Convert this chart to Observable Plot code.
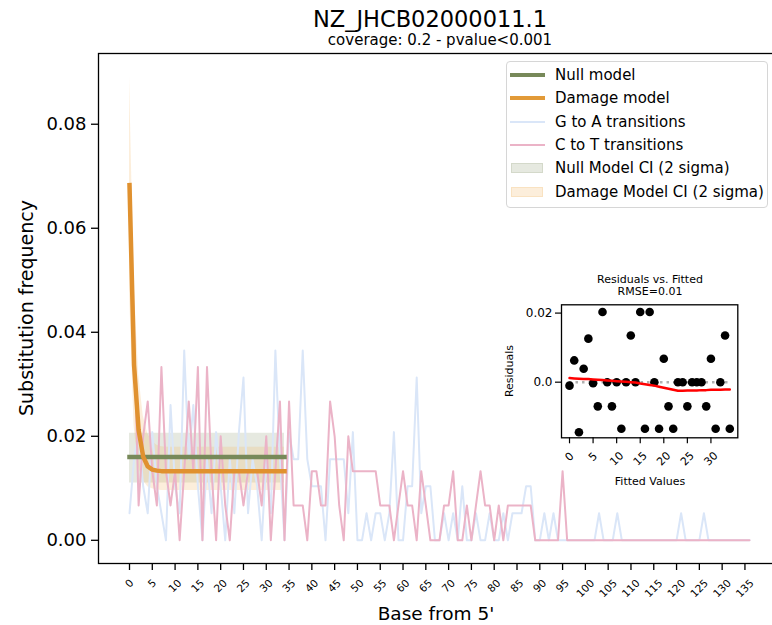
<!DOCTYPE html>
<html><head><meta charset="utf-8">
<script src="https://cdn.jsdelivr.net/npm/d3@7"></script>
<script src="https://cdn.jsdelivr.net/npm/@observablehq/plot@0.6"></script>
<style>
html,body{margin:0;padding:0;background:#fff;}
body{width:772px;height:625px;overflow:hidden;position:relative;font-family:"DejaVu Sans",sans-serif;color:#000;}
.abs{position:absolute;white-space:nowrap;line-height:1;}
.c{transform:translate(-50%,-50%);}
.r{transform:translate(-50%,-50%) rotate(-90deg);}
#main,#inset{position:absolute;}
#main{left:0;top:0;}
#inset{left:495px;top:265px;}
</style></head><body>
<div id="main"></div>
<div id="inset"></div>
<script>
// ---- data ----
const chartTitle = "NZ_JHCB02000011.1";
const chartSubtitle = "coverage: 0.2 - pvalue<0.001";

// G to A transition frequency per position (0..136)
const gaFreq = [
0.0052,0.0156,0.0208,0.0104,0.0052,0.0208,0.0104,0.0052,0,0.026,
0.0104,0.0052,0.0365,0.0156,0.026,0.0104,0,0.0156,0.0052,0.0208,
0.0104,0,0.0156,0.0052,0.0208,0.0313,0.0052,0.0156,0.0104,0,
0.0156,0.0052,0.0365,0.0156,0,0.0208,0.0156,0.0156,0.0365,0.0156,
0.0104,0.0104,0.0104,0,0.0156,0.0156,0.0156,0.0156,0.0052,0.0208,
0,0,0.0052,0,0.0052,0.0052,0,0.0052,0.0208,0,
0,0.0104,0.0104,0.0313,0.0052,0.0104,0.0104,0,0,0.0052,
0,0.0052,0,0.0104,0,0,0.0052,0,0,0.0052,
0,0,0.0052,0,0.0052,0.0052,0.0052,0.0104,0.0104,0,
0,0.0052,0,0.0052,0,0,0,0,0,0,
0,0,0,0.0052,0,0,0,0.0052,0,0,
0,0,0,0,0,0,0,0,0,0,
0,0.0052,0,0,0,0,0.0052,0,0,0,
0,0,0,0,0,0,0
];
// C to T transition frequency per position (0..136)
const ctFreq = [
0.0667,0.04,0.0067,0.02,0.0267,0.0133,0.0067,0.0333,0.0133,0.0067,
0.0133,0,0.0133,0.0267,0.0133,0.0333,0,0.0333,0.0133,0,
0.02,0.0067,0,0.0133,0.0133,0.0067,0.0133,0.0133,0.0133,0.0067,
0.02,0,0.0133,0.0267,0,0.0267,0.0067,0.0067,0.0067,0,
0.0133,0.0133,0.0067,0.0067,0.0267,0.02,0.0067,0,0.02,0.0133,
0.0133,0.0133,0.0133,0.0133,0.0133,0.0067,0.0067,0.0067,0,0.0067,
0.0133,0.0067,0.0067,0,0.0133,0.0067,0,0,0,0.0067,
0.0067,0.0133,0,0,0.0067,0,0.0067,0.0133,0.0067,0.0067,
0,0.0067,0,0.0067,0.0067,0.0067,0.0067,0.0067,0.0067,0,
0,0,0,0,0,0.0133,0,0,0,0,
0,0,0,0,0,0,0,0,0,0,
0,0,0,0,0,0,0,0,0,0,
0,0,0,0,0,0,0,0,0,0,
0,0,0,0,0,0,0
];
// Damage model fit and its 2-sigma CI (positions 0..34)
const damageModel = [0.0683,0.0337,0.0212,0.0161,0.0142,0.0136,0.0134,0.0133,0.0133,0.0133,
0.0133,0.0133,0.0133,0.0133,0.0133,0.0133,0.0133,0.0133,0.0133,0.0133,
0.0133,0.0133,0.0133,0.0133,0.0133,0.0133,0.0133,0.0133,0.0133,0.0133,
0.0133,0.0133,0.0133,0.0133,0.0133];
const damageHigh = [0.0891,0.05,0.032,0.024,0.0205,0.019,0.0183,0.018,0.0179,0.0179,
0.0179,0.0179,0.0179,0.0179,0.0179,0.0179,0.0179,0.0179,0.0179,0.0179,
0.0179,0.0179,0.0179,0.0179,0.0179,0.0179,0.0179,0.0179,0.0179,0.0179,
0.0179,0.0179,0.0179,0.0179,0.0179];
const damageLow = [0.048,0.022,0.014,0.0115,0.0103,0.0099,0.0097,0.0096,0.0096,0.0096,
0.0096,0.0096,0.0096,0.0096,0.0096,0.0096,0.0096,0.0096,0.0096,0.0096,
0.0096,0.0096,0.0096,0.0096,0.0096,0.0096,0.0096,0.0096,0.0096,0.0096,
0.0096,0.0096,0.0096,0.0096,0.0096];
// Null model (constant) and its CI
const nullModel = 0.016, nullLow = 0.011, nullHigh = 0.0206;

// Inset: residuals vs fitted (index 0..34) and lowess trend
const residuals = [-0.001,0.0063,-0.0145,0.0039,0.0126,-0.0003,-0.007,0.0203,0,-0.007,
0,-0.0135,0,0.0135,0,0.0203,-0.0135,0.0203,0,-0.0135,
0.0068,-0.007,-0.0135,0,0,-0.007,0,0,0,-0.007,
0.0068,-0.0135,0,0.0135,-0.0135];
const lowess = [0.0012,0.0011,0.001,0.0009,0.0009,0.0008,0.0007,0.0006,0.0005,0.0004,
0.0003,0.0002,0.0001,0,-0.0001,-0.0004,-0.0006,-0.0008,-0.001,-0.0013,
-0.0016,-0.0019,-0.0022,-0.0025,-0.0025,-0.0024,-0.0024,-0.0024,-0.0023,-0.0023,
-0.0022,-0.0022,-0.0022,-0.0021,-0.0021];

// ticks
const xTicks = [0,5,10,15,20,25,30,35,40,45,50,55,60,65,70,75,80,85,90,95,100,105,110,115,120,125,130,135];
const yTicks = [0,0.02,0.04,0.06,0.08];
const insetXTicks = [0,5,10,15,20,25,30];
const insetYTicks = [0,0.02];
const insetYLabels = ["0.0","0.02"];

const legendItems = [
  {label:"Null model", kind:"line", color:"#778959", w:4},
  {label:"Damage model", kind:"line", color:"#e29a38", w:4},
  {label:"G to A transitions", kind:"line", color:"#dae6f8", w:2},
  {label:"C to T transitions", kind:"line", color:"#ebb3c7", w:2},
  {label:"Null Model CI (2 sigma)", kind:"patch", color:"rgba(85,107,47,0.15)", edge:"rgba(85,107,47,0.12)"},
  {label:"Damage Model CI (2 sigma)", kind:"patch", color:"rgba(242,178,92,0.22)", edge:"rgba(242,178,92,0.2)"}
];

// ---- tables ----
const ga = gaFreq.map((v,i)=>({pos:i, v}));
const ct = ctFreq.map((v,i)=>({pos:i, v}));
const model = damageModel.map((d,i)=>({pos:i, damage:d, dLo:damageLow[i], dHi:damageHigh[i], nullV:nullModel, nLo:nullLow, nHi:nullHigh}));

const GREEN = "#778959", ORANGE = "#e0912f", BLUE = "#dae6f8", PINK = "#ebb3c7";

// rotated tick labels: matplotlib keeps the top of each rotated label box fixed,
// so longer labels sit a little lower
const tickLabelMark = (ticks, len, dy, size) => Plot.text(ticks.filter(t => String(t).length === len),
  {x:d=>d, text:d=>String(d), frameAnchor:"bottom", dy, rotate:-45, textAnchor:"middle", lineAnchor:"middle", fontSize:size});

const main = Plot.plot({
  width: 772, height: 625,
  marginLeft: 98, marginRight: -8, marginTop: 53, marginBottom: 62,
  x: {domain: [-6.8, 142.8]},
  y: {domain: [-0.00446, 0.0936]},
  style: {fontFamily: "DejaVu Sans", color: "black", background: "transparent"},
  marks: [
    Plot.areaY(model, {x:"pos", y1:"nLo", y2:"nHi", fill:"#556b2f", fillOpacity:0.15}),
    Plot.areaY(model, {x:"pos", y1:"dLo", y2:"dHi", fill:"#f2b25c", fillOpacity:0.22}),
    Plot.line(ga, {x:"pos", y:"v", stroke:BLUE, strokeWidth:2}),
    Plot.line(ct, {x:"pos", y:"v", stroke:PINK, strokeWidth:2}),
    Plot.line(model, {x:"pos", y:"nullV", stroke:GREEN, strokeWidth:4.5, strokeLinecap:"square"}),
    Plot.line(model, {x:"pos", y:"damage", stroke:ORANGE, strokeWidth:4.5, strokeLinecap:"square"}),
    Plot.axisY({ticks:yTicks, tickFormat:d3.format(".2f"), tickSize:7, tickPadding:5, fontSize:18, label:null, strokeWidth:1.3}),
    Plot.axisX({ticks:xTicks, tickSize:7, tickFormat:()=>"", label:null, strokeWidth:1.3}),
    tickLabelMark(xTicks, 1, 20, 10.5),
    tickLabelMark(xTicks, 2, 22.5, 10.5),
    tickLabelMark(xTicks, 3, 25, 10.5),
    Plot.frame({stroke:"black", strokeWidth:1.3})
  ]
});
document.getElementById("main").appendChild(main);

const inset = Plot.plot({
  width: 250, height: 230,
  marginLeft: 66, marginRight: 7.7, marginTop: 39.3, marginBottom: 57.7,
  x: {domain: [-1.7, 35.7]},
  y: {domain: [-0.0161, 0.0224]},
  style: {fontFamily: "DejaVu Sans", color: "black", background: "transparent"},
  marks: [
    Plot.frame({fill:"white"}),
    Plot.ruleY([0], {x1:0, x2:residuals.length-1, stroke:"#b0b0b0", strokeWidth:2.5, strokeDasharray:"2.5,4"}),
    Plot.dot(residuals, {x:(d,i)=>i, y:d=>d, r:4.3, fill:"black"}),
    Plot.line(lowess, {x:(d,i)=>i, y:d=>d, stroke:"red", strokeWidth:2.5}),
    Plot.axisY({ticks:insetYTicks, tickFormat:(d)=>insetYLabels[insetYTicks.indexOf(d)], tickSize:6, tickPadding:3, fontSize:12, label:null, strokeWidth:1.2}),
    Plot.axisX({ticks:insetXTicks, tickSize:6, tickFormat:()=>"", label:null, strokeWidth:1.2}),
    tickLabelMark(insetXTicks, 1, 19, 11),
    tickLabelMark(insetXTicks, 2, 21, 11),
    Plot.frame({stroke:"black", strokeWidth:1.3})
  ]
});
document.getElementById("inset").appendChild(inset);

// ---- text & legend ----
function addText(txt, x, y, size, cls, extra) {
  const d = document.createElement("div");
  d.className = "abs " + cls;
  d.style.left = x + "px"; d.style.top = y + "px"; d.style.fontSize = size + "px";
  if (extra) Object.assign(d.style, extra);
  d.textContent = txt;
  document.body.appendChild(d);
  return d;
}
addText(chartTitle, 430, 18.5, 22.5, "c");
addText(chartSubtitle, 440, 40, 15, "c");
addText("Substitution frequency", 26, 308, 19, "r");
addText("Base from 5'", 436, 614, 18.5, "c");
addText("Residuals vs. Fitted", 650, 279, 11, "c");
addText("RMSE=0.01", 650, 291, 11, "c");
addText("Residuals", 509, 371, 11, "r");
addText("Fitted Values", 650, 481, 11, "c");

const box = document.createElement("div");
Object.assign(box.style, {position:"absolute", left:"506px", top:"61px", width:"262px", height:"147px",
  border:"1px solid #d6d6d6", borderRadius:"4px", background:"rgba(255,255,255,0.85)", boxSizing:"border-box"});
document.body.appendChild(box);
const rowY = [75, 98.3, 121.7, 145, 168.3, 191.7];
legendItems.forEach((it, i) => {
  const h = document.createElement("div");
  h.style.position = "absolute";
  if (it.kind === "line") {
    Object.assign(h.style, {left:"510px", width:"35px", top:(rowY[i]-it.w/2)+"px", height:it.w+"px", background:it.color});
  } else {
    Object.assign(h.style, {left:"511px", width:"32px", top:(rowY[i]-5)+"px", height:"10px", background:it.color, boxShadow:"inset 0 0 0 1px "+it.edge});
  }
  document.body.appendChild(h);
  addText(it.label, 555, rowY[i], 15, "", {transform:"translateY(-50%)"});
});
</script>
</body></html>
